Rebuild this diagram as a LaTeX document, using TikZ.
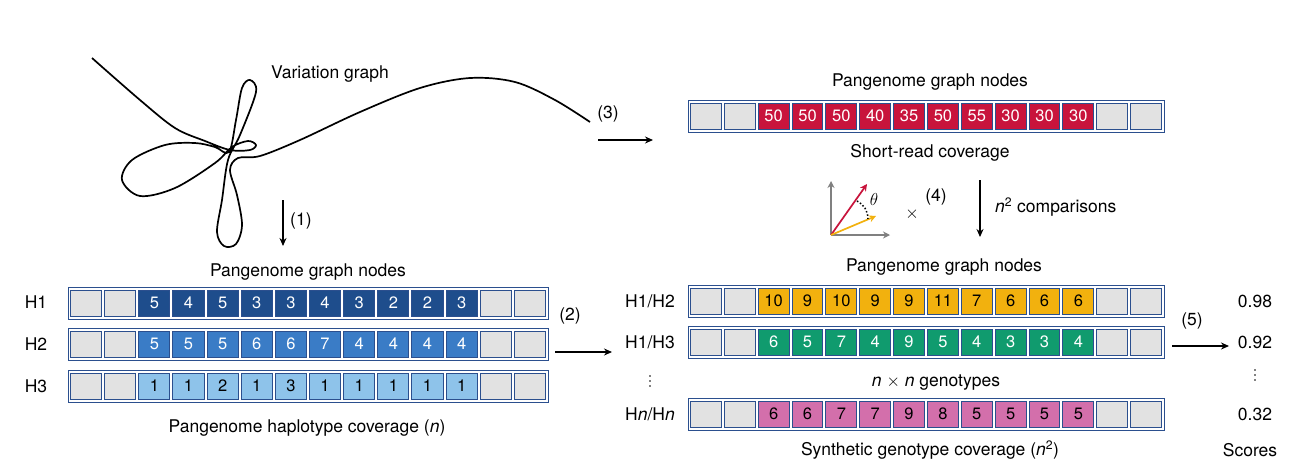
\documentclass[tikz,border=0pt]{standalone}
\usepackage{fontspec}
\setmainfont{TeX Gyre Heros}
\usetikzlibrary{arrows.meta}
\definecolor{frameb}{HTML}{2B4F8E}
\definecolor{dblue}{HTML}{1E4D8C}
\definecolor{mblue}{HTML}{3A7CC6}
\definecolor{lblue}{HTML}{8EC3EA}
\definecolor{cred}{HTML}{C8143C}
\definecolor{cyel}{HTML}{F2B10E}
\definecolor{cgrn}{HTML}{109B6E}
\definecolor{cpink}{HTML}{D36FAB}
\definecolor{cgray}{HTML}{E2E2E2}
\newcommand\myrow[7]{%
  \node[rowframe, minimum width=#4, anchor=north west] (#1) at (#2,#3) {};
  \pgfmathsetmacro\cw{(#4-2)/14}
  \foreach \i in {0,1,12,13}{
    \pgfmathsetmacro\cx{#2+1+\i*\cw+\cw/2}
    \node[cell, fill=cgray, minimum width=\cw-3] at (\cx,#3+16) {};
  }
  \foreach \v [count=\k from 2] in {#7}{
    \pgfmathsetmacro\cx{#2+1+\k*\cw+\cw/2}
    \node[cell, fill=#5, text=#6, minimum width=\cw-3] at (\cx,#3+16) {\v};
  }
}
\newcommand\vdotsat[2]{%
  \foreach \dy in {-5,0,5}{\fill (#1,#2+\dy) circle (0.9pt);}
}
\begin{document}
\begin{tikzpicture}[x=1pt,y=-1pt,
  every node/.style={inner sep=0pt},
  rowframe/.style={draw=frameb, line width=1.3pt, fill=white, minimum height=32pt},
  cell/.style={draw=frameb, line width=1pt, minimum height=26pt, font=\fontsize{16.5}{19}\selectfont},
  arr/.style={-{Stealth[length=8pt,width=7pt]}, line width=1.2pt},
  lab/.style={font=\fontsize{17.5}{20}\selectfont},
  vec/.style={-{Stealth[length=7pt,width=7pt]}, line width=1.7pt}]
\useasboundingbox (0,0) rectangle (1292,459);
% variation graph curve
\draw[line width=1.7pt, line join=round] plot[smooth, tension=0.55] coordinates{
 (92,58) (140,100) (175,128) (205,141) (230,150) (250,150) (256,145) (248,141) (232,147)
 (215,163) (175,188) (140,196) (122,180) (132,160) (165,145) (195,143) (215,147) (229,152)
 (236,120) (242,88) (250,80) (256,92) (240,135) (228,160) (222,200) (217,232) (224,246)
 (236,244) (242,225) (237,195) (230,170) (238,158) (260,156) (300,140) (360,112) (420,88)
 (470,78) (515,82) (555,100) (590,122)};
\node[lab] (vg) at (330,74) {Variation graph};
% step 1
\coordinate (a1s) at (283,200); \coordinate (a1e) at (283,246);
\draw[arr] (a1s) -- (a1e);
\node[lab, anchor=west] (l1) at (290,221) {(1)};
\node[lab] (pg1) at (308,272) {Pangenome graph nodes};
\myrow{r1}{68}{287}{480}{dblue}{white}{5,4,5,3,3,4,3,2,2,3}
\myrow{r2}{68}{328}{480}{mblue}{white}{5,5,5,6,6,7,4,4,4,4}
\myrow{r3}{68}{370}{480}{lblue}{black}{1,1,2,1,3,1,1,1,1,1}
\node[lab] (h1) at (36,302) {H1};
\node[lab] (h2) at (36,344) {H2};
\node[lab] (h3) at (36,386) {H3};
\node[lab] (hap) at (307,428) {Pangenome haplotype coverage (\textit{n})};
% step 2
\node[lab] (l2) at (570,316) {(2)};
\coordinate (a2s) at (555,352); \coordinate (a2e) at (612,352);
\draw[arr] (a2s) -- (a2e);
% step 3
\node[lab] (l3) at (608,114) {(3)};
\coordinate (a3s) at (598,140); \coordinate (a3e) at (653,140);
\draw[arr] (a3s) -- (a3e);
\node[lab] (pgt) at (930,82) {Pangenome graph nodes};
\myrow{rt}{688}{100}{476}{cred}{white}{50,50,50,40,35,50,55,30,30,30}
\node[lab] (src) at (930,153) {Short-read coverage};
% step 4 icon
\coordinate (o) at (831,235);
\coordinate (vy) at (831,181); \coordinate (vx) at (890,235);
\coordinate (vr) at (867,184); \coordinate (vyl) at (876,216);
\draw[vec, gray] (o) -- (vy);
\draw[vec, gray] (o) -- (vx);
\draw[vec, cred] (o) -- (vr);
\draw[vec, cyel] (o) -- (vyl);
\draw[dotted, line width=1.5pt] (857,201) to[bend left=30] (868,219);
\node[lab] (th) at (874,199) {$\mathrm{\theta}$};
\node[lab] (x4) at (912,214) {$\times$};
\node[lab] (l4) at (936,197) {(4)};
\coordinate (a4s) at (980,180); \coordinate (a4e) at (980,237);
\draw[arr] (a4s) -- (a4e);
\node[lab, anchor=west] (cmp) at (995,207) {\textit{n}\textsuperscript{2} comparisons};
\node[lab] (pgr) at (944,267) {Pangenome graph nodes};
\myrow{g1}{688}{285}{476}{cyel}{black}{10,9,10,9,9,11,7,6,6,6}
\myrow{g2}{688}{326}{476}{cgrn}{white}{6,5,7,4,9,5,4,3,3,4}
\myrow{g3}{688}{398}{476}{cpink}{black}{6,6,7,7,9,8,5,5,5,5}
\node[lab] (gh1) at (650,301) {H1/H2};
\node[lab] (gh2) at (650,342) {H1/H3};
\vdotsat{650}{381}
\node[lab] (gh3) at (650,414) {H\textit{n}/H\textit{n}};
\node[lab] (nxn) at (936,383) {\textit{n} $\times$ \textit{n} genotypes};
\node[lab] (syn) at (930,450) {Synthetic genotype coverage (\textit{n}\textsuperscript{2})};
% step 5
\node[lab] (l5) at (1192,321) {(5)};
\coordinate (a5s) at (1172,346); \coordinate (a5e) at (1229,346);
\draw[arr] (a5s) -- (a5e);
\node[lab] (s1) at (1255,301) {0.98};
\node[lab] (s2) at (1255,342) {0.92};
\vdotsat{1255}{375}
\node[lab] (s3) at (1255,414) {0.32};
\node[lab] (sc) at (1250,450) {Scores};
\end{tikzpicture}
\end{document}
